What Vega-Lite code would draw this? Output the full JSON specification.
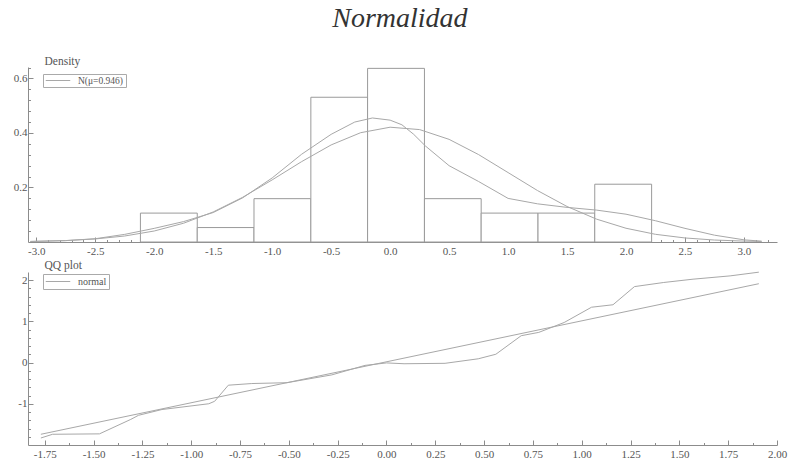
{
  "$schema": "https://vega.github.io/schema/vega-lite/v6.json",
  "background": "white",
  "padding": {"left": 13, "top": 5, "right": 5, "bottom": 5},
  "title": {"text": "Normalidad", "font": "Liberation Serif", "fontStyle": "italic", "fontWeight": "normal", "fontSize": 28, "color": "#333333", "anchor": "middle", "frame": "bounds", "offset": 22},
  "config": {
    "view": {"stroke": null},
    "axis": {"grid": false, "domainColor": "#8c8c8c", "tickColor": "#8c8c8c", "labelColor": "#555555", "labelFont": "Liberation Serif", "labelFontSize": 11, "titleFont": "Liberation Serif", "titleFontWeight": "normal", "titleColor": "#555555", "titleFontSize": 11.5, "labelOverlap": false}
  },
  "datasets": {
    "hist": [
      {"x0": -2.117, "x1": -1.635, "density": 0.106},
      {"x0": -1.635, "x1": -1.154, "density": 0.053},
      {"x0": -1.154, "x1": -0.672, "density": 0.159},
      {"x0": -0.672, "x1": -0.191, "density": 0.531},
      {"x0": -0.191, "x1": 0.291, "density": 0.637},
      {"x0": 0.291, "x1": 0.772, "density": 0.159},
      {"x0": 0.772, "x1": 1.254, "density": 0.106},
      {"x0": 1.254, "x1": 1.735, "density": 0.106},
      {"x0": 1.735, "x1": 2.217, "density": 0.212}
    ],
    "kde": [
      {"x": -3.05, "density": 0.002}, {"x": -2.75, "density": 0.005}, {"x": -2.5, "density": 0.012},
      {"x": -2.25, "density": 0.028}, {"x": -2.0, "density": 0.05}, {"x": -1.75, "density": 0.075},
      {"x": -1.5, "density": 0.108}, {"x": -1.25, "density": 0.162}, {"x": -1.0, "density": 0.235},
      {"x": -0.75, "density": 0.322}, {"x": -0.5, "density": 0.395}, {"x": -0.3, "density": 0.44},
      {"x": -0.15, "density": 0.455}, {"x": 0.0, "density": 0.447}, {"x": 0.1, "density": 0.43},
      {"x": 0.2, "density": 0.395}, {"x": 0.3, "density": 0.352}, {"x": 0.5, "density": 0.28},
      {"x": 0.75, "density": 0.222}, {"x": 1.0, "density": 0.16}, {"x": 1.25, "density": 0.14},
      {"x": 1.5, "density": 0.127}, {"x": 1.75, "density": 0.117}, {"x": 2.0, "density": 0.102},
      {"x": 2.25, "density": 0.078}, {"x": 2.5, "density": 0.05}, {"x": 2.75, "density": 0.025},
      {"x": 3.0, "density": 0.008}, {"x": 3.15, "density": 0.003}
    ],
    "normal": [
      {"x": -3.05, "density": 0.002}, {"x": -2.75, "density": 0.0053}, {"x": -2.5, "density": 0.0112},
      {"x": -2.25, "density": 0.022}, {"x": -2.0, "density": 0.0403}, {"x": -1.75, "density": 0.069},
      {"x": -1.5, "density": 0.1102}, {"x": -1.25, "density": 0.164}, {"x": -1.0, "density": 0.2278},
      {"x": -0.75, "density": 0.2949}, {"x": -0.5, "density": 0.3561}, {"x": -0.25, "density": 0.401},
      {"x": 0.0, "density": 0.4211}, {"x": 0.25, "density": 0.4124}, {"x": 0.5, "density": 0.3766},
      {"x": 0.75, "density": 0.3207}, {"x": 1.0, "density": 0.2547}, {"x": 1.25, "density": 0.1886},
      {"x": 1.5, "density": 0.1303}, {"x": 1.75, "density": 0.0839}, {"x": 2.0, "density": 0.0504},
      {"x": 2.25, "density": 0.0282}, {"x": 2.5, "density": 0.0148}, {"x": 2.75, "density": 0.0072},
      {"x": 3.0, "density": 0.0033}, {"x": 3.15, "density": 0.002}
    ],
    "qq": [
      {"q": -1.77, "v": -1.83}, {"q": -1.71, "v": -1.74}, {"q": -1.47, "v": -1.73},
      {"q": -1.31, "v": -1.38}, {"q": -1.27, "v": -1.28}, {"q": -1.15, "v": -1.14},
      {"q": -0.91, "v": -1.0}, {"q": -0.88, "v": -0.94}, {"q": -0.81, "v": -0.55},
      {"q": -0.69, "v": -0.51}, {"q": -0.51, "v": -0.49}, {"q": -0.28, "v": -0.3},
      {"q": -0.11, "v": -0.07}, {"q": 0.0, "v": -0.01}, {"q": 0.09, "v": -0.03},
      {"q": 0.3, "v": -0.02}, {"q": 0.47, "v": 0.09}, {"q": 0.56, "v": 0.2},
      {"q": 0.69, "v": 0.65}, {"q": 0.78, "v": 0.73}, {"q": 0.91, "v": 0.97},
      {"q": 1.05, "v": 1.34}, {"q": 1.16, "v": 1.4}, {"q": 1.27, "v": 1.84},
      {"q": 1.42, "v": 1.94}, {"q": 1.57, "v": 2.02}, {"q": 1.76, "v": 2.1},
      {"q": 1.907, "v": 2.19}
    ],
    "qqline": [
      {"q": -1.77, "v": -1.74}, {"q": 1.907, "v": 1.91}
    ]
  },
  "vconcat": [
    {
      "width": 749,
      "height": 175,
      "layer": [
        {
          "data": {"name": "hist"},
          "mark": {"type": "rect", "fill": "white", "stroke": "#9a9a9a", "strokeWidth": 1},
          "encoding": {
            "x": {"field": "x0", "type": "quantitative", "scale": {"domain": [-3.07, 3.28], "nice": false, "zero": false},
              "axis": {"orient": "bottom", "title": null, "values": [-3,-2.5,-2,-1.5,-1,-0.5,0,0.5,1,1.5,2,2.5,3],
                "labelExpr": "replace(format(datum.value,'.1f'),'\u2212','-')",
                "tickSize": -5, "labelPadding": 8, "labelFlush": false}},
            "x2": {"field": "x1"},
            "y": {"field": "density", "type": "quantitative", "scale": {"domain": [0, 0.642], "nice": false},
              "axis": {"orient": "left", "title": "Density", "titleAngle": 0, "titleAlign": "left", "titleBaseline": "alphabetic", "titleX": 16, "titleY": -3,
                "values": [0.2, 0.4, 0.6], "format": ".1f",
                "tickSize": -5, "labelPadding": 6}},
            "y2": {"datum": 0}
          }
        },
        {
          "data": {"name": "kde"},
          "mark": {"type": "line", "color": "#a8a8a8", "strokeWidth": 1},
          "encoding": {
            "x": {"field": "x", "type": "quantitative", "scale": {"domain": [-3.07, 3.28], "nice": false, "zero": false},
              "axis": {"orient": "bottom", "title": null, "labels": false, "domain": false, "tickSize": -2.5,
                "values": [-2.9,-2.8,-2.7,-2.6,-2.4,-2.3,-2.2,-2.1,-1.9,-1.8,-1.7,-1.6,-1.4,-1.3,-1.2,-1.1,-0.9,-0.8,-0.7,-0.6,-0.4,-0.3,-0.2,-0.1,0.1,0.2,0.3,0.4,0.6,0.7,0.8,0.9,1.1,1.2,1.3,1.4,1.6,1.7,1.8,1.9,2.1,2.2,2.3,2.4,2.6,2.7,2.8,2.9,3.1,3.2]}},
            "y": {"field": "density", "type": "quantitative", "scale": {"domain": [0, 0.642], "nice": false},
              "axis": {"orient": "left", "title": null, "labels": false, "domain": false, "tickSize": -2.5,
                "values": [0.04,0.08,0.12,0.16,0.24,0.28,0.32,0.36,0.44,0.48,0.52,0.56,0.64]}}
          }
        },
        {
          "data": {"name": "normal"},
          "mark": {"type": "line", "strokeWidth": 1},
          "encoding": {
            "x": {"field": "x", "type": "quantitative", "axis": null},
            "y": {"field": "density", "type": "quantitative", "axis": null},
            "color": {"datum": "N(μ=0.946)", "type": "nominal", "scale": {"range": ["#a8a8a8"]},
              "legend": {"title": null, "orient": "none", "legendX": 15, "legendY": 7, "strokeColor": "#aaaaaa", "fillColor": "white", "padding": 2,
                "symbolType": "stroke", "symbolSize": 600, "symbolStrokeWidth": 1, "clipHeight": 9,
                "labelFont": "Liberation Serif", "labelFontSize": 9.5, "labelColor": "#555555", "labelOffset": 7}}
          }
        }
      ],
      "resolve": {"axis": {"x": "independent", "y": "independent"}}
    },
    {
      "width": 749,
      "height": 173,
      "layer": [
        {
          "mark": {"type": "rule", "color": "#dddddd", "strokeWidth": 2},
          "encoding": {"y": {"datum": 0, "type": "quantitative", "scale": {"domain": [-2.0, 2.194], "nice": false, "zero": false}, "axis": null}}
        },
        {
          "data": {"name": "qqline"},
          "mark": {"type": "line", "color": "#a8a8a8", "strokeWidth": 1},
          "encoding": {
            "x": {"field": "q", "type": "quantitative", "scale": {"domain": [-1.836, 2.0], "nice": false, "zero": false},
              "axis": {"orient": "bottom", "title": null, "values": [-1.75,-1.5,-1.25,-1,-0.75,-0.5,-0.25,0,0.25,0.5,0.75,1,1.25,1.5,1.75,2],
                "labelExpr": "replace(format(datum.value,'.2f'),'\u2212','-')",
                "tickSize": -5, "labelPadding": 8, "labelFlush": false}},
            "y": {"field": "v", "type": "quantitative", "scale": {"domain": [-2.0, 2.194], "nice": false, "zero": false},
              "axis": {"orient": "left", "title": "QQ plot", "titleAngle": 0, "titleAlign": "left", "titleBaseline": "alphabetic", "titleX": 16, "titleY": -4,
                "values": [-1, 0, 1, 2],
                "labelExpr": "replace(format(datum.value,'d'),'\u2212','-')",
                "tickSize": -5, "labelPadding": 6}}
          }
        },
        {
          "data": {"name": "qq"},
          "mark": {"type": "line", "strokeWidth": 1},
          "encoding": {
            "x": {"field": "q", "type": "quantitative", "scale": {"domain": [-1.836, 2.0], "nice": false, "zero": false},
              "axis": {"orient": "bottom", "title": null, "labels": false, "domain": false, "tickSize": -2.5,
                "values": [-1.625,-1.375,-1.125,-0.875,-0.625,-0.375,-0.125,0.125,0.375,0.625,0.875,1.125,1.375,1.625,1.875]}},
            "y": {"field": "v", "type": "quantitative", "scale": {"domain": [-2.0, 2.194], "nice": false, "zero": false},
              "axis": {"orient": "left", "title": null, "labels": false, "domain": false, "tickSize": -2.5,
                "values": [-1.8,-1.6,-1.4,-1.2,-0.8,-0.6,-0.4,-0.2,0.2,0.4,0.6,0.8,1.2,1.4,1.6,1.8]}},
            "color": {"datum": "normal", "type": "nominal", "scale": {"range": ["#a8a8a8"]},
              "legend": {"title": null, "orient": "none", "legendX": 15, "legendY": 2, "strokeColor": "#aaaaaa", "fillColor": "white", "padding": 2,
                "symbolType": "stroke", "symbolSize": 600, "symbolStrokeWidth": 1, "clipHeight": 11,
                "labelFont": "Liberation Serif", "labelFontSize": 10, "labelColor": "#555555", "labelOffset": 7}}
          }
        }
      ],
      "resolve": {"axis": {"x": "independent", "y": "independent"}}
    }
  ],
  "spacing": 30,
  "bounds": "flush",
  "resolve": {"scale": {"color": "independent"}}
}
